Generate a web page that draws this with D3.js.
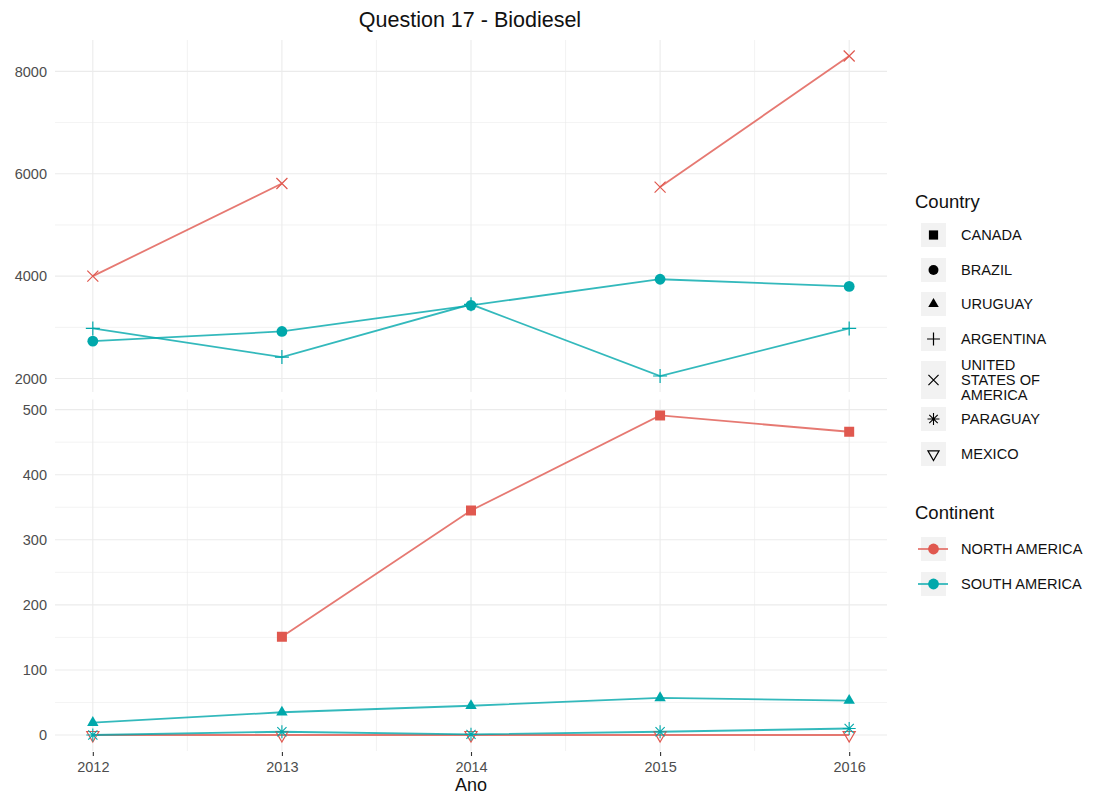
<!DOCTYPE html>
<html>
<head>
<meta charset="utf-8">
<script src="https://cdn.jsdelivr.net/npm/d3@7"></script>
<style>
  body { margin: 0; background: #fff; }
  svg { font-family: "Liberation Sans", Arial, Helvetica, sans-serif; }
</style>
</head>
<body>
<svg id="chart" width="1097" height="799"></svg>
<script>
// ---------------- DATA ----------------
const years = [2012, 2013, 2014, 2015, 2016];
const countries = ["CANADA", "BRAZIL", "URUGUAY", "ARGENTINA", "UNITED STATES OF AMERICA", "PARAGUAY", "MEXICO"];
const continents = ["NORTH AMERICA", "SOUTH AMERICA"];
const countryContinent = ["NORTH AMERICA", "SOUTH AMERICA", "SOUTH AMERICA", "SOUTH AMERICA", "NORTH AMERICA", "SOUTH AMERICA", "NORTH AMERICA"];
const countryPanel = ["bottom", "top", "bottom", "top", "top", "bottom", "bottom"];
const canada    = [null, 151, 345, 491, 466];
const brazil    = [2730, 2920, 3430, 3940, 3800];
const uruguay   = [19, 35, 45, 57, 53];
const argentina = [2980, 2420, 3450, 2050, 2980];
const usa       = [4000, 5810, null, 5740, 8300];
const paraguay  = [0, 5, 1, 5, 10];
const mexico    = [0, 0, 0, 0, 0];
const seriesValues = [canada, brazil, uruguay, argentina, usa, paraguay, mexico];
const topTicks = [2000, 4000, 6000, 8000];
const bottomTicks = [0, 100, 200, 300, 400, 500];
const title = "Question 17 - Biodiesel";
const xTitle = "Ano";

// ---------------- STYLE ----------------
const pointColor = { "NORTH AMERICA": "#E0584F", "SOUTH AMERICA": "#00A8AB" };
const shapes = ["square", "circle", "triangle", "plus", "cross", "asterisk", "triangleDown"];

const svg = d3.select("#chart");
const panelX = [55, 887];
const panels = {
  top: { y0: 40, y1: 392 },
  bottom: { y0: 399.5, y1: 751 }
};

const x = d3.scaleLinear().domain([2011.8, 2016.2]).range(panelX);

function expandedDomain(vals) {
  const ext = d3.extent(vals);
  const pad = (ext[1] - ext[0]) * 0.05;
  return [ext[0] - pad, ext[1] + pad];
}

["top", "bottom"].forEach(p => {
  const vals = [];
  seriesValues.forEach((s, i) => { if (countryPanel[i] === p) s.forEach(v => { if (v != null) vals.push(v); }); });
  panels[p].y = d3.scaleLinear().domain(expandedDomain(vals)).range([panels[p].y1, panels[p].y0]);
  panels[p].ticks = p === "top" ? topTicks : bottomTicks;
});

// Grid
const gridCol = "#EBEBEB";
["top", "bottom"].forEach(p => {
  const P = panels[p];
  const g = svg.append("g");
  const t = P.ticks;
  const step = t[1] - t[0];
  const minor = [];
  for (let v = t[0] - step / 2; v <= t[t.length - 1] + step / 2; v += step) minor.push(v);
  const dom = P.y.domain();
  minor.filter(v => v >= dom[0] && v <= dom[1]).forEach(v => {
    g.append("line").attr("x1", panelX[0]).attr("x2", panelX[1])
      .attr("y1", P.y(v)).attr("y2", P.y(v)).attr("stroke", gridCol).attr("stroke-width", 0.6);
  });
  [2012.5, 2013.5, 2014.5, 2015.5].forEach(v => {
    g.append("line").attr("x1", x(v)).attr("x2", x(v))
      .attr("y1", P.y0).attr("y2", P.y1).attr("stroke", gridCol).attr("stroke-width", 0.6);
  });
  t.forEach(v => {
    g.append("line").attr("x1", panelX[0]).attr("x2", panelX[1])
      .attr("y1", P.y(v)).attr("y2", P.y(v)).attr("stroke", gridCol).attr("stroke-width", 1.1);
  });
  years.forEach(v => {
    g.append("line").attr("x1", x(v)).attr("x2", x(v))
      .attr("y1", P.y0).attr("y2", P.y1).attr("stroke", gridCol).attr("stroke-width", 1.1);
  });
  const ax = d3.axisLeft(P.y).tickValues(t).tickSize(0).tickPadding(8).tickFormat(d3.format("d"));
  const ag = svg.append("g").attr("transform", `translate(${panelX[0]},0)`).call(ax);
  ag.select(".domain").remove();
  ag.selectAll("text").attr("fill", "#4D4D4D").style("font-size", "14.5px");
});

// x axis
const xa = d3.axisBottom(x).tickValues(years).tickSize(4).tickPadding(6).tickFormat(d3.format("d"));
const xg = svg.append("g").attr("transform", `translate(0,${panels.bottom.y1 + 1})`).call(xa);
xg.select(".domain").remove();
xg.selectAll("line").attr("stroke", "#333").attr("stroke-width", 1.1);
xg.selectAll("text").attr("fill", "#4D4D4D").style("font-size", "14.5px");

// Symbols
function drawShape(g, shape, cx, cy, color, scale) {
  const s = scale || 1;
  if (shape === "square") {
    const h = 5 * s;
    g.append("rect").attr("x", cx - h).attr("y", cy - h).attr("width", 2 * h).attr("height", 2 * h).attr("fill", color);
  } else if (shape === "circle") {
    g.append("circle").attr("cx", cx).attr("cy", cy).attr("r", 5.4 * s).attr("fill", color);
  } else if (shape === "triangle") {
    const r = 6.6 * s;
    g.append("path").attr("d", `M${cx},${cy - r}L${cx + r * 0.866},${cy + r * 0.5}L${cx - r * 0.866},${cy + r * 0.5}Z`).attr("fill", color);
  } else if (shape === "plus") {
    const r = 7 * s;
    g.append("path").attr("d", `M${cx - r},${cy}H${cx + r}M${cx},${cy - r}V${cy + r}`).attr("stroke", color).attr("stroke-width", 1.2).attr("fill", "none");
  } else if (shape === "cross") {
    const r = 5.5 * s;
    g.append("path").attr("d", `M${cx - r},${cy - r}L${cx + r},${cy + r}M${cx - r},${cy + r}L${cx + r},${cy - r}`).attr("stroke", color).attr("stroke-width", 1.2).attr("fill", "none");
  } else if (shape === "asterisk") {
    const r = 6.5 * s, d = r * 0.707;
    g.append("path").attr("d", `M${cx - r},${cy}H${cx + r}M${cx},${cy - r}V${cy + r}M${cx - d},${cy - d}L${cx + d},${cy + d}M${cx - d},${cy + d}L${cx + d},${cy - d}`)
      .attr("stroke", color).attr("stroke-width", 1.1).attr("fill", "none");
  } else if (shape === "triangleDown") {
    const r = 7 * s;
    g.append("path").attr("d", `M${cx},${cy + r}L${cx + r * 0.866},${cy - r * 0.5}L${cx - r * 0.866},${cy - r * 0.5}Z`)
      .attr("stroke", color).attr("stroke-width", 1.2).attr("fill", "none");
  }
}

// Lines then points
const order = [6, 5, 2, 0, 4, 3, 1];
const lineG = svg.append("g");
const ptG = svg.append("g");
order.forEach(i => {
  const P = panels[countryPanel[i]];
  const col = pointColor[countryContinent[i]];
  const data = years.map((yr, j) => ({ yr, v: seriesValues[i][j] }));
  const line = d3.line().defined(d => d.v != null).x(d => x(d.yr)).y(d => P.y(d.v));
  lineG.append("path").datum(data).attr("d", line).attr("fill", "none")
    .attr("stroke", col).attr("stroke-opacity", 0.8).attr("stroke-width", 1.8);
  data.filter(d => d.v != null).forEach(d => drawShape(ptG, shapes[i], x(d.yr), P.y(d.v), col, 1));
});

// Titles
svg.append("text").attr("x", 470).attr("y", 27).attr("text-anchor", "middle")
  .style("font-size", "21.5px").attr("fill", "#111").text(title);
svg.append("text").attr("x", (panelX[0] + panelX[1]) / 2).attr("y", 791).attr("text-anchor", "middle")
  .style("font-size", "18px").attr("fill", "#111").text(xTitle);

// Legend: Country
const lg = svg.append("g");
lg.append("text").attr("x", 915).attr("y", 208).style("font-size", "18.5px").attr("fill", "#111").text("Country");
const keyTops = [223, 258, 292, 327, 361, 407, 442];
const labelLines = countries.map(c => c === "UNITED STATES OF AMERICA" ? ["UNITED", "STATES OF", "AMERICA"] : [c]);
countries.forEach((c, i) => {
  const h = labelLines[i].length > 1 ? 38 : 24;
  const top = keyTops[i];
  lg.append("rect").attr("x", 921).attr("y", top).attr("width", 25).attr("height", h).attr("fill", "#F2F2F2");
  drawShape(lg, shapes[i], 933.5, top + h / 2, "#000", 0.92);
  const lines = labelLines[i];
  const cy = top + h / 2;
  lines.forEach((ln, k) => {
    lg.append("text").attr("x", 961).attr("y", cy + (k - (lines.length - 1) / 2) * 15 + 5)
      .style("font-size", "14.6px").attr("fill", "#111").text(ln);
  });
});

// Legend: Continent
lg.append("text").attr("x", 915).attr("y", 519).style("font-size", "18.5px").attr("fill", "#111").text("Continent");
const contTops = [537, 572];
continents.forEach((c, i) => {
  const top = contTops[i];
  lg.append("rect").attr("x", 921).attr("y", top).attr("width", 25).attr("height", 24).attr("fill", "#F2F2F2");
  lg.append("line").attr("x1", 918).attr("x2", 948).attr("y1", top + 12).attr("y2", top + 12)
    .attr("stroke", pointColor[c]).attr("stroke-opacity", 0.8).attr("stroke-width", 1.8);
  lg.append("circle").attr("cx", 933.5).attr("cy", top + 12).attr("r", 5.4).attr("fill", pointColor[c]);
  lg.append("text").attr("x", 961).attr("y", top + 17).style("font-size", "14.6px").attr("fill", "#111").text(c);
});
</script>
</body>
</html>
